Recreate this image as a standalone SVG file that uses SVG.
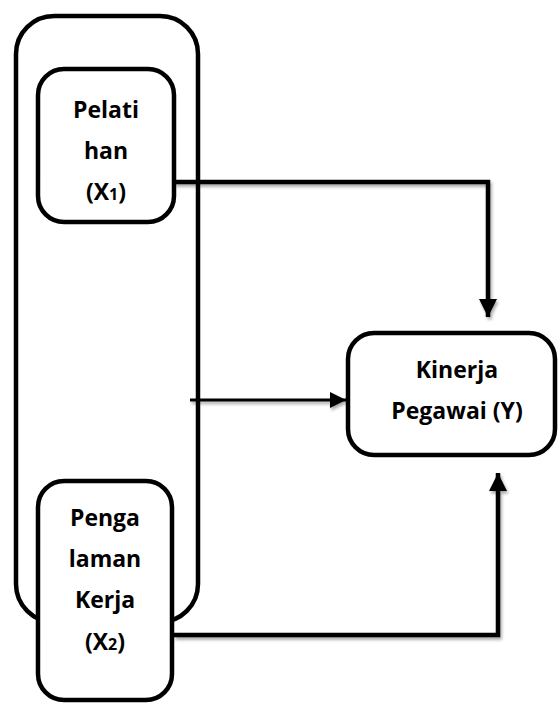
<svg xmlns="http://www.w3.org/2000/svg" width="560" height="704" viewBox="0 0 560 704">
<style>
.box{fill:#fff;stroke:#000;stroke-width:4.5}
.outer{fill:none;stroke:#000;stroke-width:4.5}
.lbl{font-family:"Open Sans","Liberation Sans",sans-serif;font-weight:bold;font-size:23px;fill:#000;text-anchor:middle}
.sub{font-size:16px}
.con{fill:none;stroke:#000;stroke-width:4.5;stroke-linejoin:miter}
</style>
<defs>
<filter id="sh" x="-10%" y="-10%" width="130%" height="130%">
<feDropShadow dx="1.5" dy="2.5" stdDeviation="1.5" flood-color="#000" flood-opacity="0.35"/>
</filter>
<marker id="ah" viewBox="0 0 10 10" refX="10" refY="5" markerWidth="4" markerHeight="4" orient="auto" markerUnits="strokeWidth">
<path d="M0,0 L10,5 L0,10 z" fill="#000"/>
</marker>
<marker id="ah2" viewBox="0 0 10 10" refX="10" refY="5" markerWidth="5.5" markerHeight="5.5" orient="auto" markerUnits="strokeWidth">
<path d="M0,0 L10,5 L0,10 z" fill="#000"/>
</marker>
</defs>
<g id="group-X">
<rect class="outer" x="16" y="16" width="182" height="606" rx="38" ry="38"/>
</g>
<g id="connectors" filter="url(#sh)">
<path class="con" d="M174,182 H488 V317" marker-end="url(#ah)"/>
<path class="con" d="M174,635 H498 V473" marker-end="url(#ah)"/>
<path class="con" style="stroke-width:3" d="M190,400 H346" marker-end="url(#ah2)"/>
</g>
<g id="node-X1">
<rect class="box" x="38" y="69" width="136" height="153" rx="26" ry="26"/>
<text class="lbl" x="106" y="118">Pelati</text>
<text class="lbl" x="106" y="159">han</text>
<text class="lbl" x="106" y="200">(X<tspan class="sub">1</tspan>)</text>
</g>
<g id="node-X2">
<rect class="box" x="38" y="481" width="134" height="219" rx="26" ry="26"/>
<text class="lbl" x="105" y="526">Penga</text>
<text class="lbl" x="105" y="567">laman</text>
<text class="lbl" x="105" y="608">Kerja</text>
<text class="lbl" x="105" y="650">(X<tspan class="sub">2</tspan>)</text>
</g>
<g id="node-Y">
<rect class="box" x="348" y="333" width="207" height="122" rx="26" ry="26"/>
<text class="lbl" x="457" y="378">Kinerja</text>
<text class="lbl" x="457" y="419">Pegawai (Y)</text>
</g>
</svg>
